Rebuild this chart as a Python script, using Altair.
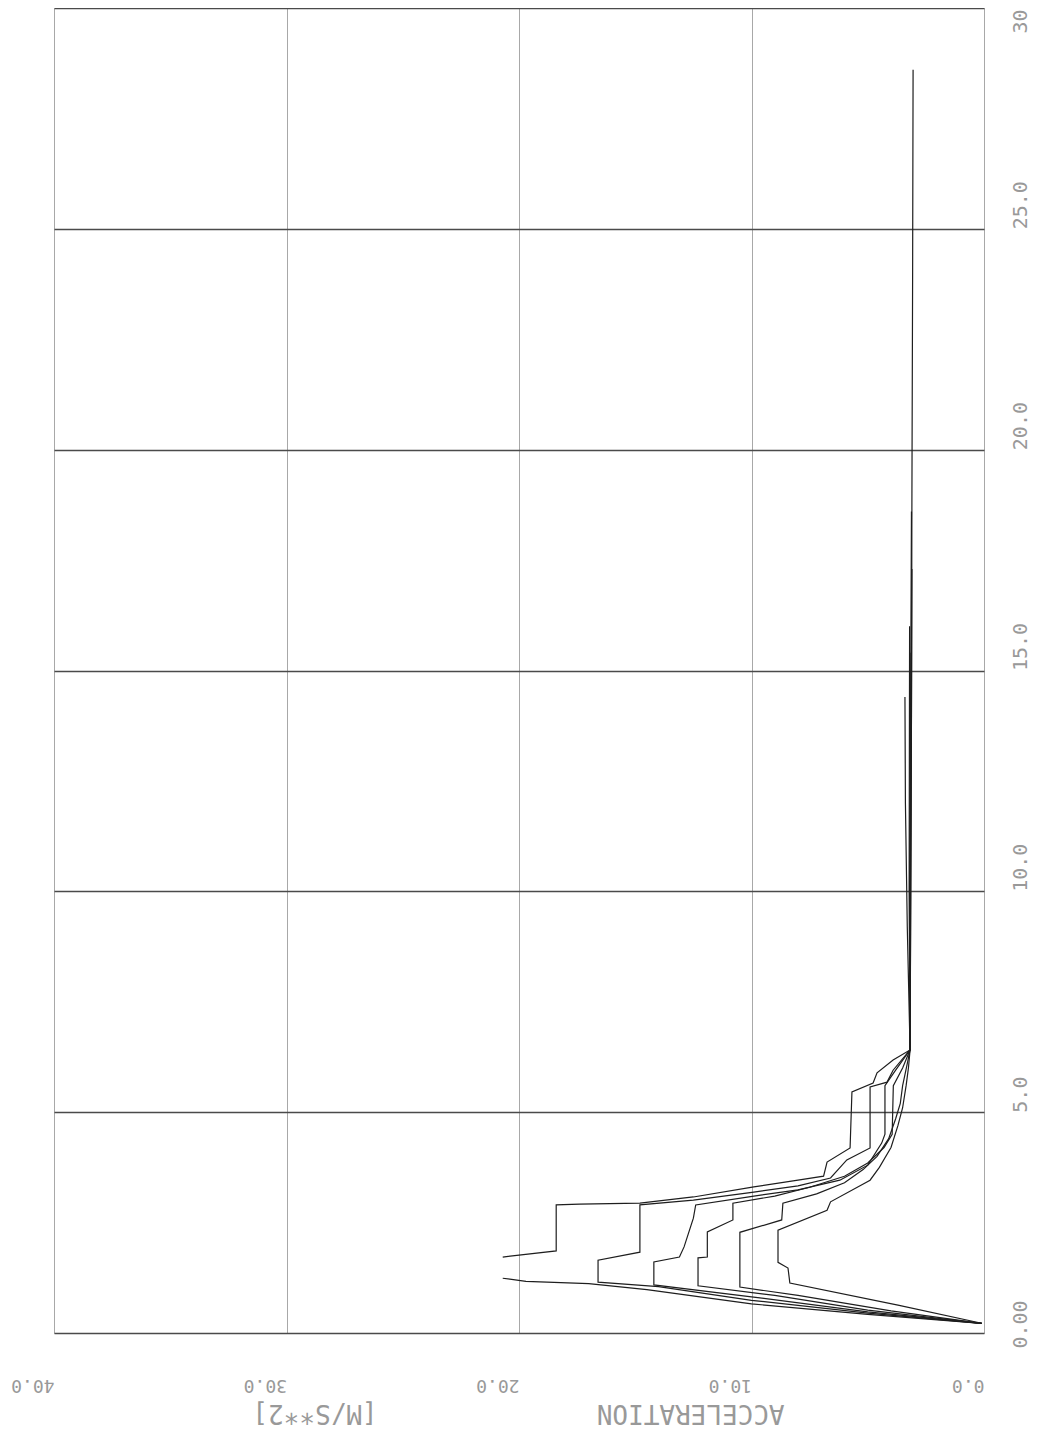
import altair as alt
import pandas as pd

# ---- data: acceleration [m/s**2] vs time [s], one list pair per run ----
# (None = pen lift / missing sample in the trace)
c1_acc  = [0.1, 5.0, 10.0, 14.5, 17.0, 19.7, 20.7, None, 20.7, 18.4, 18.4, 17.4, 14.8, 12.5, 9.9, 8.0, 6.9, 6.75, 5.76, 5.68, 4.77, 4.6, 3.91, 3.18, 3.16, 3.12, 3.10, 3.07, 3.05]
c1_time = [0.22, 0.42, 0.66, 0.98, 1.12, 1.17, 1.24, None, 1.72, 1.86, 2.90, 2.92, 2.94, 3.08, 3.31, 3.46, 3.55, 3.87, 4.19, 5.46, 5.66, 5.89, 6.18, 6.41, 9.0, 14.0, 19.0, 24.0, 28.6]

c2_acc  = [0.1, 5.0, 10.0, 14.0, 16.6, 16.6, 14.8, 14.8, 12.5, 9.9, 8.0, 6.6, 5.9, 4.9, 4.9, 4.17, 3.91, 3.18, 3.30, 3.38, 3.40]
c2_time = [0.22, 0.45, 0.74, 1.05, 1.15, 1.65, 1.83, 2.90, 3.01, 3.19, 3.33, 3.51, 3.92, 4.19, 5.57, 5.68, 5.95, 6.41, 9.2, 12.0, 14.4]

c3_acc  = [0.1, 5.0, 10.0, 14.2, 14.2, 13.1, 12.9, 12.5, 12.4, 9.9, 8.0, 6.2, 5.0, 4.4, 4.26, 4.26, 3.8, 3.18, 3.20, 3.15, 3.12]
c3_time = [0.22, 0.48, 0.82, 1.09, 1.61, 1.72, 1.95, 2.60, 2.90, 3.10, 3.24, 3.46, 3.80, 4.30, 4.50, 5.60, 5.95, 6.41, 10.0, 15.0, 18.6]

c4_acc  = [0.1, 5.0, 9.0, 12.3, 12.3, 11.9, 11.9, 10.8, 10.8, 9.0, 7.5, 6.0, 5.0, 4.3, 3.95, 3.9, 3.5, 3.18, 3.14, 3.10]
c4_time = [0.22, 0.52, 0.85, 1.07, 1.70, 1.72, 2.29, 2.56, 2.94, 3.10, 3.30, 3.55, 3.85, 4.20, 4.50, 5.60, 6.00, 6.41, 11.0, 17.3]

c5_acc  = [0.1, 4.0, 8.0, 10.5, 10.5, 8.7, 8.65, 7.2, 6.0, 5.2, 4.6, 4.1, 3.8, 3.6, 3.5, 3.3, 3.18, 3.22, 3.20]
c5_time = [0.22, 0.50, 0.85, 1.04, 2.28, 2.56, 2.94, 3.15, 3.40, 3.70, 4.00, 4.40, 4.85, 5.20, 5.60, 6.10, 6.41, 10.0, 16.0]

c6_acc  = [0.1, 3.7, 8.35, 8.43, 8.86, 8.86, 6.75, 6.6, 4.9, 4.5, 4.0, 3.7, 3.5, 3.35, 3.25, 3.18, 3.17, 3.14]
c6_time = [0.22, 0.63, 1.13, 1.47, 1.60, 2.33, 2.78, 2.97, 3.46, 3.75, 4.20, 4.70, 5.10, 5.60, 6.00, 6.41, 10.0, 15.4]

acc_ticks  = [0, 10, 20, 30, 40]
time_ticks = [0, 5, 10, 15, 20, 25, 30]
acc_labels = {0: "0.0", 10: "10.0", 20: "20.0", 30: "30.0", 40: "40.0"}
time_labels = {0: "0.00", 5: "5.0", 10: "10.0", 15: "15.0", 20: "20.0", 25: "25.0", 30: "30"}
x_title = "ACCELERATION" + "\u00a0" * 14 + "[M/S**2]"

runs = [(c1_acc, c1_time), (c2_acc, c2_time), (c3_acc, c3_time),
        (c4_acc, c4_time), (c5_acc, c5_time), (c6_acc, c6_time)]
rows = []
for k, (a_list, t_list) in enumerate(runs, start=1):
    for i, (a, t) in enumerate(zip(a_list, t_list)):
        rows.append({"acc": a, "time": t, "run": f"run{k}", "seq": i})
df = pd.DataFrame(rows)

def label_expr(mapping):
    parts = " : ".join(f"datum.value == {k} ? '{v}'" for k, v in mapping.items())
    return parts + " : ''"

FONT = "DejaVu Sans Mono"
TXT = "#999999"

x_axis = alt.Axis(
    values=acc_ticks, labelExpr=label_expr(acc_labels),
    orient="bottom", domain=False, ticks=False,
    grid=True, gridColor="#a8a8a8", gridWidth=1,
    labelAngle=180, labelAlign="left", labelBaseline="bottom",
    labelPadding=42, labelFont=FONT, labelFontSize=18, labelColor=TXT,
    labelOverlap=False, labelFlush=False,
    title=x_title, titleAngle=180, titleFont=FONT, titleFontSize=26,
    titleFontWeight="normal", titleColor=TXT, titleAlign="center",
    titleBaseline="middle", titleX=464, titleY=79,
)
y_axis = alt.Axis(
    values=time_ticks, labelExpr=label_expr(time_labels),
    orient="right", domain=False, ticks=False,
    grid=True, gridColor="#4a4a4a", gridWidth=1.4,
    labelAngle=270, labelAlign="left", labelBaseline="top",
    labelPadding=26, labelFont=FONT, labelFontSize=20, labelColor=TXT,
    labelOffset={"condition": [{"test": "datum.value == 0", "value": 15},
                               {"test": "datum.value == 30", "value": 25}],
                 "value": 0},
    labelOverlap=False, labelFlush=False, title=None,
)

chart = alt.Chart(df).mark_line(color="#1e1e1e", strokeWidth=1.2).encode(
    x=alt.X("acc:Q", scale=alt.Scale(domain=[0, 40], reverse=True, nice=False, zero=False), axis=x_axis),
    y=alt.Y("time:Q", scale=alt.Scale(domain=[0, 30], nice=False, zero=False), axis=y_axis),
    detail="run:N",
    order="seq:Q",
).properties(
    width=930, height=1325,
    autosize=alt.AutoSizeParams(type="none"),
    padding={"left": 46, "top": 0, "right": 47, "bottom": 96},
).configure_view(stroke=None).configure(background="white")

chart.save("out.html", embed_options={"renderer": "svg", "actions": False})
